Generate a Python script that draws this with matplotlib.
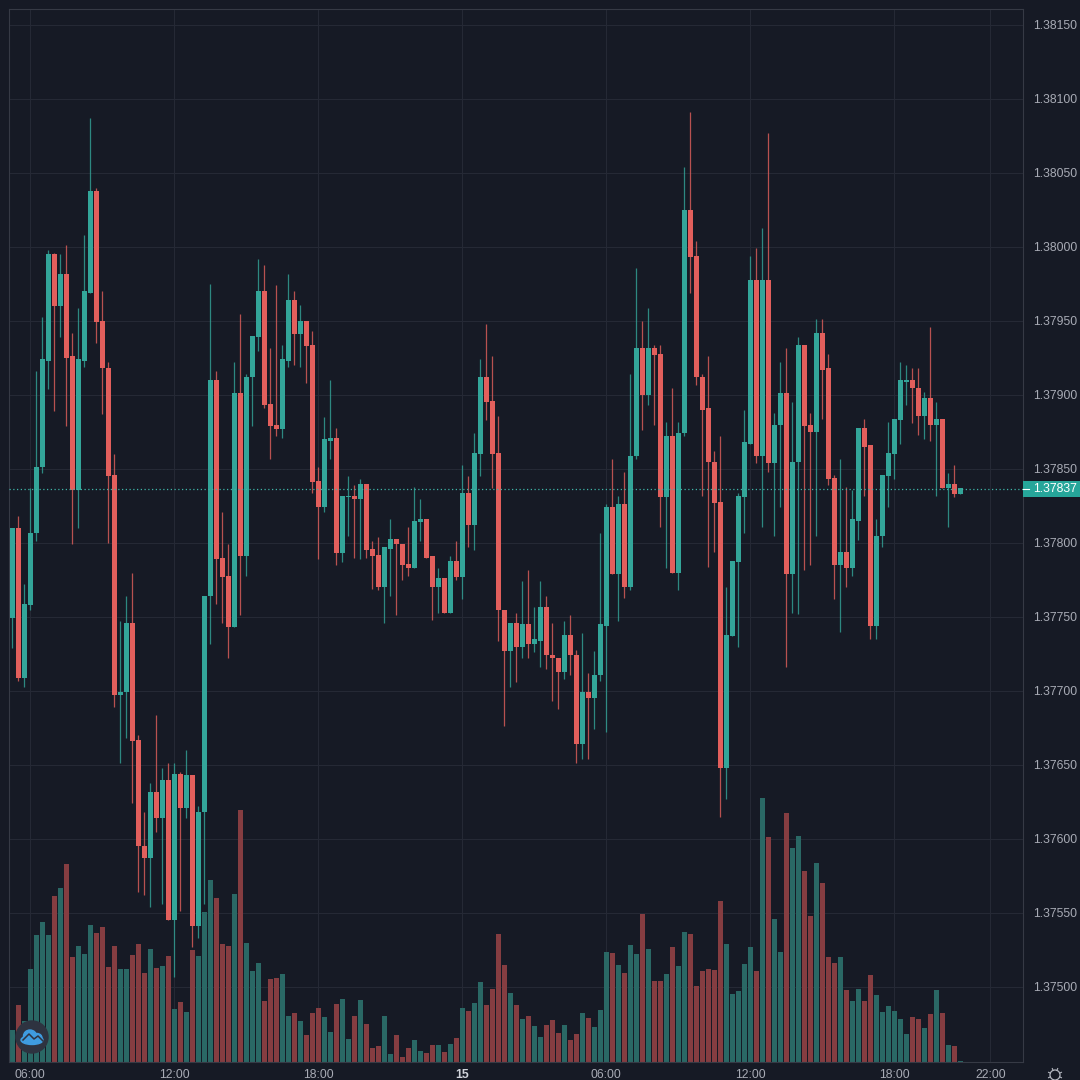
import numpy as np
import matplotlib
matplotlib.use('Agg')
import matplotlib.pyplot as plt
from matplotlib.patches import Circle, Rectangle, Ellipse

# 15 minute candles, prices in points above 1.37000
base_price = 1.37
opens = [749, 810, 709, 758, 807, 851, 923, 995, 960, 982,
         926, 836, 923, 969, 1038, 950, 918, 846, 697, 699,
         746, 667, 595, 587, 632, 614, 640, 545, 644, 621,
         643, 541, 618, 764, 910, 790, 778, 743, 901, 791,
         912, 939, 970, 894, 880, 877, 923, 964, 941, 950,
         934, 842, 824, 869, 871, 793, 831, 832, 830, 840,
         796, 792, 770, 796, 803, 799, 786, 783, 814, 816,
         791, 770, 776, 753, 788, 777, 834, 812, 860, 912,
         896, 861, 755, 727, 746, 730, 745, 732, 734, 757,
         724, 722, 713, 738, 724, 664, 699, 695, 711, 744,
         824, 779, 826, 770, 859, 932, 900, 932, 928, 831,
         872, 780, 874, 1025, 994, 912, 891, 855, 828, 648,
         737, 787, 831, 867, 978, 859, 978, 854, 880, 901,
         779, 855, 934, 880, 875, 942, 918, 844, 785, 794,
         783, 815, 878, 866, 744, 805, 845, 860, 883, 909,
         910, 905, 886, 898, 880, 884, 837, 840, 833]
highs = [810, 818, 772, 837, 916, 953, 998, 996, 995, 1001,
         942, 959, 1008, 1087, 1040, 970, 922, 860, 747, 764,
         780, 670, 618, 638, 684, 648, 651, 651, 645, 660,
         643, 622, 764, 975, 916, 821, 799, 922, 955, 914,
         940, 992, 988, 932, 974, 934, 982, 970, 961, 950,
         943, 851, 885, 910, 878, 832, 845, 839, 843, 840,
         801, 804, 797, 816, 803, 799, 811, 838, 830, 816,
         791, 783, 776, 791, 801, 853, 845, 874, 924, 948,
         926, 886, 755, 746, 753, 774, 782, 757, 774, 764,
         746, 722, 747, 751, 728, 739, 712, 727, 807, 826,
         857, 832, 848, 914, 986, 950, 959, 934, 934, 882,
         905, 882, 1054, 1091, 1004, 914, 926, 862, 872, 770,
         788, 834, 890, 994, 999, 1013, 1077, 888, 922, 932,
         895, 939, 934, 888, 951, 951, 928, 846, 857, 838,
         836, 878, 884, 866, 816, 846, 882, 884, 922, 920,
         918, 918, 902, 946, 895, 884, 847, 853, 837]
lows = [729, 707, 703, 755, 801, 847, 904, 889, 939, 879,
        799, 810, 919, 969, 935, 887, 800, 689, 651, 668,
        624, 564, 562, 554, 605, 556, 545, 507, 551, 614,
        527, 533, 556, 732, 759, 746, 722, 743, 751, 778,
        879, 930, 891, 857, 872, 871, 919, 920, 919, 908,
        834, 789, 821, 857, 785, 787, 805, 790, 789, 790,
        769, 768, 746, 764, 751, 775, 778, 783, 801, 790,
        748, 753, 753, 753, 775, 762, 797, 795, 845, 883,
        837, 734, 676, 703, 706, 722, 722, 726, 716, 715,
        693, 688, 708, 711, 651, 654, 654, 674, 707, 672,
        779, 747, 763, 768, 857, 876, 893, 880, 811, 783,
        780, 768, 872, 969, 907, 832, 784, 794, 615, 627,
        737, 730, 807, 867, 854, 811, 848, 805, 824, 716,
        753, 752, 782, 785, 805, 884, 839, 762, 740, 770,
        778, 802, 832, 735, 735, 797, 824, 843, 867, 893,
        881, 873, 870, 869, 832, 837, 811, 831, 833]
closes = [810, 709, 759, 807, 851, 924, 995, 960, 982, 925,
          836, 924, 970, 1038, 949, 918, 845, 697, 699, 746,
          666, 595, 587, 632, 614, 640, 545, 644, 621, 643,
          541, 618, 764, 910, 789, 777, 743, 901, 791, 912,
          940, 970, 893, 879, 877, 924, 964, 941, 950, 933,
          841, 824, 870, 871, 793, 832, 832, 830, 840, 795,
          791, 770, 797, 803, 799, 785, 783, 815, 816, 790,
          770, 776, 753, 788, 777, 834, 812, 861, 912, 895,
          860, 755, 727, 746, 730, 745, 732, 735, 757, 724,
          722, 713, 738, 724, 664, 699, 695, 711, 745, 824,
          779, 826, 770, 859, 932, 900, 932, 927, 831, 872,
          780, 874, 1025, 993, 912, 890, 855, 827, 648, 738,
          788, 832, 868, 978, 859, 978, 854, 880, 901, 779,
          855, 934, 879, 875, 942, 917, 843, 785, 794, 783,
          816, 878, 865, 744, 805, 846, 861, 884, 910, 910,
          905, 886, 898, 880, 884, 837, 840, 833, 837]
volumes = [32, 57, 41, 93, 127, 140, 127, 166, 174, 198,
           105, 116, 108, 137, 129, 135, 95, 116, 93, 93,
           107, 118, 89, 113, 94, 96, 106, 53, 60, 50,
           112, 106, 150, 182, 164, 118, 116, 168, 252, 119,
           91, 99, 61, 83, 84, 88, 46, 49, 41, 27,
           49, 54, 45, 30, 58, 63, 23, 46, 62, 38,
           14, 16, 46, 8, 27, 5, 14, 22, 11, 9,
           17, 17, 10, 18, 24, 54, 51, 59, 80, 57,
           73, 128, 97, 69, 57, 43, 46, 36, 25, 37,
           42, 29, 37, 22, 28, 49, 44, 35, 52, 110,
           109, 97, 89, 117, 108, 148, 113, 81, 81, 88,
           115, 96, 130, 128, 76, 91, 93, 92, 161, 118,
           68, 71, 98, 115, 91, 264, 225, 143, 110, 249,
           214, 226, 191, 146, 199, 179, 105, 99, 105, 72,
           61, 73, 61, 87, 67, 50, 56, 51, 43, 28,
           45, 43, 34, 48, 72, 49, 17, 16, 1]

time_ticks = [3, 27, 51, 75, 99, 123, 147, 163]
time_labels = ['06:00', '12:00', '18:00', '15', '06:00', '12:00', '18:00', '22:00']
price_ticks = [1.375, 1.3755, 1.376, 1.3765, 1.377, 1.3775, 1.378, 1.3785,
               1.379, 1.3795, 1.38, 1.3805, 1.381, 1.3815]

BG = '#161a25'
GRID = '#252935'
BORDER = '#363a45'
TEXT = '#a8abb5'
UP = '#33a599'
DOWN = '#e25f5c'
UP_VOL = '#2a6865'
DOWN_VOL = '#853d41'

plt.rcParams['font.family'] = ['Liberation Sans', 'DejaVu Sans']

to_price = lambda pts: base_price + np.array(pts) / 100000
o, h, l, c = to_price(opens), to_price(highs), to_price(lows), to_price(closes)
x = np.arange(len(opens))
rising = c >= o

fig = plt.figure(figsize=(10.8, 10.8), dpi=100, facecolor=BG)
ax = fig.add_axes([9 / 1080, 18.3 / 1080, 1014 / 1080, 1052.7 / 1080], facecolor=BG)
ax.set_xlim(-0.55, 168.45)
ymin, ymax = 1.374495, 1.381608
ax.set_ylim(ymin, ymax)

# grid
ax.set_xticks(time_ticks)
ax.set_xticklabels(time_labels)
ax.set_yticks(price_ticks)
ax.set_yticklabels([f'{p:.5f}' for p in price_ticks])
ax.yaxis.tick_right()
ax.grid(True, color=GRID, lw=0.8, zorder=0)
ax.set_axisbelow(True)
ax.tick_params(axis='y', length=0, pad=7.2, labelsize=8.8, labelcolor=TEXT)
ax.tick_params(axis='x', length=0, pad=5.2, labelsize=8.8, labelcolor=TEXT)
for lab in ax.get_yticklabels():
    lab.set_ha('left')
ax.get_xticklabels()[3].set_fontweight('bold')
ax.get_xticklabels()[3].set_color('#d1d4dc')
for s in ax.spines.values():
    s.set_color(BORDER)
    s.set_linewidth(0.8)

# volume sits on the bottom of the pane
vol_scale = (ymax - ymin) / 1052.7
ax.bar(x, np.array(volumes) * vol_scale, width=0.84, bottom=ymin,
       color=[UP_VOL if r else DOWN_VOL for r in rising], zorder=2)

# candles
colors = [UP if r else DOWN for r in rising]
ax.vlines(x, l, h, colors=colors, lw=0.9, alpha=0.8, zorder=3)
ax.bar(x, np.abs(c - o), width=0.88, bottom=np.minimum(o, c), color=colors, zorder=4)

# last price line and label
last = c[-1]
mid = last - 0.7 * vol_scale
ax.axhline(mid, color='#3fb5a8', lw=0.9, ls=(0, (1, 2)), zorder=5)
trans = ax.get_yaxis_transform()
ax.add_patch(Rectangle((1.0, mid - 8 * vol_scale), 57 / 1014, 16 * vol_scale, transform=trans,
                       color='#26a69a', clip_on=False, lw=0, zorder=6))
ax.plot([1.0, 1.006], [mid, mid], transform=trans, color='white', lw=0.8,
        clip_on=False, zorder=7)
ax.text(1 + 10 / 1014, mid, f'{last:.5f}', transform=trans, color='white', fontsize=8.8,
        va='center', ha='left', clip_on=False, zorder=7)

# overlay for logo and settings icon, in pixels
over = fig.add_axes([0, 0, 1, 1], facecolor='none')
over.set_xlim(0, 1080)
over.set_ylim(1080, 0)
over.axis('off')
over.add_patch(Circle((32, 1037), 16, color='#2e3340', zorder=1))
over.add_patch(Ellipse((32, 1040), 22, 9, color='#3f9ce0', zorder=2))
over.add_patch(Ellipse((30, 1036), 13, 12, color='#3f9ce0', zorder=2))
over.add_patch(Ellipse((37, 1038), 10, 9, color='#3f9ce0', zorder=2))
over.plot([23, 29, 34, 38, 43], [1040, 1034, 1039, 1036, 1041], color='#2e3340', lw=1.1, zorder=3)

over.add_patch(Circle((1055, 1075), 5, fill=False, ec='#b2b5be', lw=0.9))
for ang in np.arange(0, 360, 45):
    dx, dy = np.cos(np.radians(ang + 22.5)), np.sin(np.radians(ang + 22.5))
    over.plot([1055 + 5 * dx, 1055 + 7 * dx], [1075 + 5 * dy, 1075 + 7 * dy], color='#b2b5be', lw=0.8)

plt.savefig('out.png', dpi=100, facecolor=BG)
